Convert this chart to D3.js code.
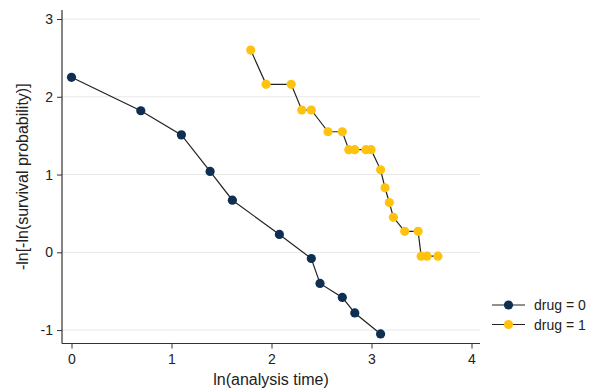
<!DOCTYPE html>
<html>
  <head>
    <meta charset="utf-8" />
    <script src="https://d3js.org/d3.v7.min.js"></script>
    <style>
      body { margin: 0; background: #fff; }
      text { font-family: "Liberation Sans", Arial, sans-serif; fill: #222; }
    </style>
  </head>
  <body>
    <svg id="viz"></svg>
    <script>
      // drug = 0 : ln(time), -ln[-ln S(t)]
      var drug0X = [0, 0.693, 1.099, 1.386, 1.609, 2.079, 2.398, 2.485, 2.708, 2.833, 3.091];
      var drug0Y = [2.25, 1.82, 1.51, 1.04, 0.67, 0.23, -0.08, -0.40, -0.58, -0.78, -1.05];
      // drug = 1
      var drug1X = [1.792, 1.946, 2.197, 2.303, 2.398, 2.565, 2.708, 2.773, 2.833, 2.944, 2.996,
                    3.091, 3.135, 3.178, 3.219, 3.332, 3.466, 3.497, 3.555, 3.664];
      var drug1Y = [2.60, 2.16, 2.16, 1.83, 1.83, 1.55, 1.55, 1.32, 1.32, 1.32, 1.32,
                    1.06, 0.83, 0.64, 0.45, 0.27, 0.27, -0.05, -0.05, -0.05];
      var xTicks = [0, 1, 2, 3, 4];
      var yTicks = [-1, 0, 1, 2, 3];
      var seriesNames = ["drug = 0", "drug = 1"];
      var seriesColors = ["#0e2e52", "#ffc20e"];

      var width = 589, height = 389;
      var svg = d3.select("#viz").attr("width", width).attr("height", height);

      var x = d3.scaleLinear().domain([0, 4]).range([71.5, 471.5]);
      var y = d3.scaleLinear().domain([0, 3]).range([252.3, 19]);
      var plotL = 62, plotR = 480, plotT = 10, plotB = 343.5;

      // gridlines
      svg.append("g").selectAll("line").data(yTicks).enter().append("line")
        .attr("x1", plotL).attr("x2", plotR)
        .attr("y1", function(d) { return y(d); }).attr("y2", function(d) { return y(d); })
        .attr("stroke", "#e8e8e8").attr("stroke-width", 1);

      // axes
      var fmt = function(d) { return String(d); };
      var xAxis = svg.append("g").attr("transform", "translate(0," + plotB + ")")
        .call(d3.axisBottom(x).tickValues(xTicks).tickSize(5).tickPadding(6).tickFormat(fmt));
      xAxis.select(".domain").attr("d", "M" + plotL + ",0H" + plotR);
      var yAxis = svg.append("g").attr("transform", "translate(" + plotL + ",0)")
        .call(d3.axisLeft(y).tickValues(yTicks).tickSize(5).tickPadding(4).tickFormat(fmt));
      yAxis.select(".domain").attr("d", "M0," + plotT + "V" + plotB);
      svg.selectAll(".domain").attr("stroke", "#333").attr("stroke-width", 1.2);
      svg.selectAll(".tick line").attr("stroke", "#333");
      svg.selectAll(".tick text").style("font-size", "14px").style("font-family", "Liberation Sans, Arial, sans-serif").attr("fill", "#222");

      svg.append("text").attr("x", (plotL + plotR) / 2).attr("y", 385)
        .attr("text-anchor", "middle").style("font-size", "16px").text("ln(analysis time)");
      svg.append("text").attr("transform", "translate(28," + ((plotT + plotB) / 2) + ") rotate(-90)")
        .attr("text-anchor", "middle").style("font-size", "16px").text("-ln[-ln(survival probability)]");

      var line = d3.line().x(function(d) { return x(d[0]); }).y(function(d) { return y(d[1]); });
      var series = [d3.zip(drug0X, drug0Y), d3.zip(drug1X, drug1Y)];

      series.forEach(function(pts, i) {
        var g = svg.append("g");
        g.append("path").datum(pts).attr("d", line)
          .attr("fill", "none").attr("stroke", "#222").attr("stroke-width", 1.2);
        g.selectAll("circle").data(pts).enter().append("circle")
          .attr("cx", function(d) { return x(d[0]); })
          .attr("cy", function(d) { return y(d[1]); })
          .attr("r", 4.6).attr("fill", seriesColors[i]);
      });

      // legend
      var legend = svg.append("g").selectAll("g").data(seriesNames).enter().append("g")
        .attr("transform", function(d, i) { return "translate(0," + (305 + i * 19.5) + ")"; });
      legend.append("line").attr("x1", 492).attr("x2", 525)
        .attr("stroke", "#222").attr("stroke-width", 1.2);
      legend.append("circle").attr("cx", 508.5).attr("r", 4.6)
        .attr("fill", function(d, i) { return seriesColors[i]; });
      legend.append("text").attr("x", 534).attr("y", 5)
        .style("font-size", "14px").text(function(d) { return d; });
    </script>
  </body>
</html>
